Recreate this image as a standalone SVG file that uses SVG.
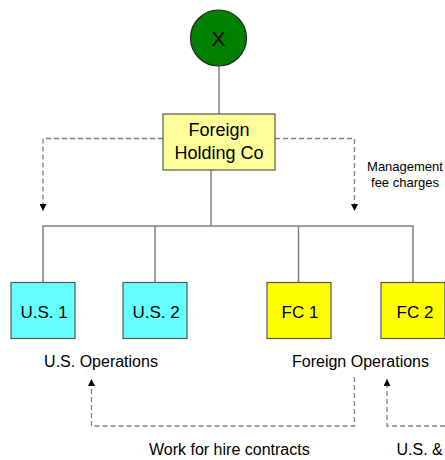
<svg xmlns="http://www.w3.org/2000/svg" width="445" height="460" viewBox="0 0 445 460">
  <defs>
    <marker id="arrow" viewBox="0 0 7 7" refX="7" refY="3.5" markerWidth="7" markerHeight="7" markerUnits="userSpaceOnUse" orient="auto">
      <path d="M0,0 L7,3.5 L0,7 Z" fill="#000"/>
    </marker>
  </defs>
  <style>
    .box { stroke: #555; stroke-width: 1.2; }
    .line { fill: none; stroke: #808080; stroke-width: 1.5; }
    .dash { fill: none; stroke: #808080; stroke-width: 1.3; stroke-dasharray: 5 3; }
    text { font-family: "Liberation Sans", Arial, sans-serif; fill: #000; }
    .lbl { font-size: 17px; text-anchor: middle; }
    .head { font-size: 18px; text-anchor: middle; }
    .note { font-size: 13px; text-anchor: middle; }
    .cap { font-size: 16px; }
  </style>

  <g id="connectors">
    <line class="line" x1="219" y1="66" x2="219" y2="114"/>
    <line class="line" x1="211" y1="170" x2="211" y2="226"/>
    <polyline class="line" points="43,282 43,226 413,226 413,282"/>
    <line class="line" x1="155" y1="226" x2="155" y2="282"/>
    <line class="line" x1="298.5" y1="226" x2="298.5" y2="282"/>
    <polyline class="dash" points="163,138.5 43,138.5 43,211" marker-end="url(#arrow)"/>
    <polyline class="dash" points="275,138.5 354.5,138.5 354.5,211" marker-end="url(#arrow)"/>
    <polyline class="dash" points="354.5,377 354.5,426 91.5,426 91.5,379" marker-end="url(#arrow)"/>
    <polyline class="dash" points="445,426 387,426 387,379" marker-end="url(#arrow)"/>
  </g>

  <g id="node-x">
    <circle cx="218.5" cy="38" r="28" fill="#008000" stroke="#222" stroke-width="1.2"/>
    <text class="head" x="218.5" y="45.5" style="font-size:21px">X</text>
  </g>

  <g id="node-holding">
    <rect class="box" x="163" y="114" width="112" height="56" fill="#ffff99"/>
    <text class="head" x="219" y="136">Foreign</text>
    <text class="head" x="219" y="159">Holding Co</text>
  </g>

  <g id="node-us1">
    <rect class="box" x="11" y="282.5" width="64" height="56" fill="#66ffff"/>
    <text class="lbl" x="44" y="318">U.S. 1</text>
  </g>
  <g id="node-us2">
    <rect class="box" x="123" y="282.5" width="64" height="56" fill="#66ffff"/>
    <text class="lbl" x="156" y="318">U.S. 2</text>
  </g>
  <g id="node-fc1">
    <rect class="box" x="267" y="282.5" width="64" height="56" fill="#ffff00"/>
    <text class="lbl" x="300" y="318">FC 1</text>
  </g>
  <g id="node-fc2">
    <rect class="box" x="381" y="282.5" width="64" height="56" fill="#ffff00"/>
    <text class="lbl" x="415" y="318">FC 2</text>
  </g>

  <g id="labels">
    <text class="note" x="405" y="171">Management</text>
    <text class="note" x="405" y="187">fee charges</text>
    <text class="cap" x="101" y="366.5" text-anchor="middle">U.S. Operations</text>
    <text class="cap" x="360.5" y="366.5" text-anchor="middle">Foreign Operations</text>
    <text class="cap" x="149" y="455">Work for hire contracts</text>
    <text class="cap" x="396.5" y="455">U.S. &amp;</text>
  </g>
</svg>
